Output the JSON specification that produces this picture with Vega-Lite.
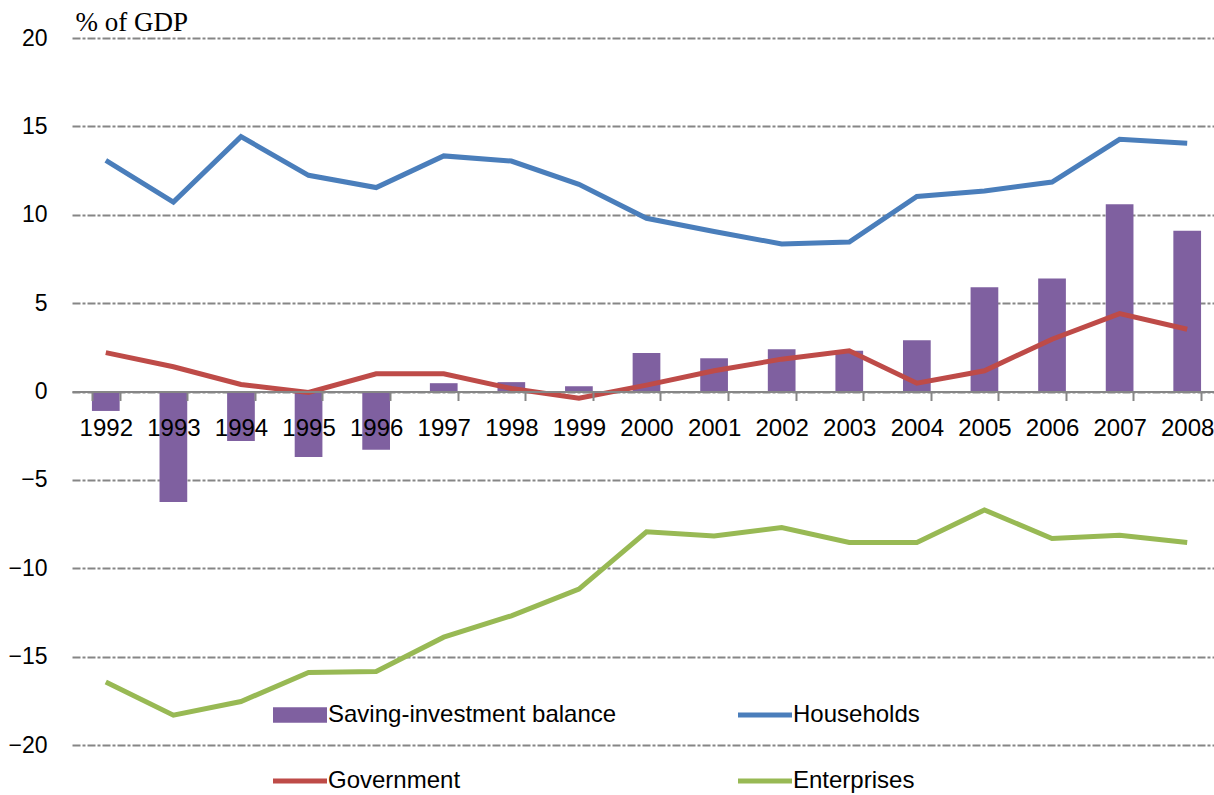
{
  "$schema": "https://vega.github.io/schema/vega-lite/v6.json",
  "autosize": {"type": "none"},
  "padding": {"left": 72, "top": 38, "right": -7, "bottom": 50},
  "width": 1149,
  "height": 707,
  "background": "white",
  "config": {
    "view": {"stroke": null},
    "font": "Liberation Sans"
  },
  "data": {
    "values": [
      {"year": "1992", "series": "Saving-investment balance", "value": -1.1},
      {"year": "1993", "series": "Saving-investment balance", "value": -6.25},
      {"year": "1994", "series": "Saving-investment balance", "value": -2.8},
      {"year": "1995", "series": "Saving-investment balance", "value": -3.7},
      {"year": "1996", "series": "Saving-investment balance", "value": -3.3},
      {"year": "1997", "series": "Saving-investment balance", "value": 0.47},
      {"year": "1998", "series": "Saving-investment balance", "value": 0.53},
      {"year": "1999", "series": "Saving-investment balance", "value": 0.3},
      {"year": "2000", "series": "Saving-investment balance", "value": 2.18},
      {"year": "2001", "series": "Saving-investment balance", "value": 1.88},
      {"year": "2002", "series": "Saving-investment balance", "value": 2.39},
      {"year": "2003", "series": "Saving-investment balance", "value": 2.3},
      {"year": "2004", "series": "Saving-investment balance", "value": 2.9},
      {"year": "2005", "series": "Saving-investment balance", "value": 5.9},
      {"year": "2006", "series": "Saving-investment balance", "value": 6.4},
      {"year": "2007", "series": "Saving-investment balance", "value": 10.6},
      {"year": "2008", "series": "Saving-investment balance", "value": 9.1},
      {"year": "1992", "series": "Households", "value": 13.08},
      {"year": "1993", "series": "Households", "value": 10.72},
      {"year": "1994", "series": "Households", "value": 14.42},
      {"year": "1995", "series": "Households", "value": 12.23},
      {"year": "1996", "series": "Households", "value": 11.54},
      {"year": "1997", "series": "Households", "value": 13.33},
      {"year": "1998", "series": "Households", "value": 13.04},
      {"year": "1999", "series": "Households", "value": 11.72},
      {"year": "2000", "series": "Households", "value": 9.8},
      {"year": "2001", "series": "Households", "value": 9.05},
      {"year": "2002", "series": "Households", "value": 8.35},
      {"year": "2003", "series": "Households", "value": 8.46},
      {"year": "2004", "series": "Households", "value": 11.03},
      {"year": "2005", "series": "Households", "value": 11.35},
      {"year": "2006", "series": "Households", "value": 11.85},
      {"year": "2007", "series": "Households", "value": 14.27},
      {"year": "2008", "series": "Households", "value": 14.05},
      {"year": "1992", "series": "Government", "value": 2.2},
      {"year": "1993", "series": "Government", "value": 1.4},
      {"year": "1994", "series": "Government", "value": 0.4},
      {"year": "1995", "series": "Government", "value": -0.05},
      {"year": "1996", "series": "Government", "value": 1.0},
      {"year": "1997", "series": "Government", "value": 1.0},
      {"year": "1998", "series": "Government", "value": 0.17},
      {"year": "1999", "series": "Government", "value": -0.38},
      {"year": "2000", "series": "Government", "value": 0.36},
      {"year": "2001", "series": "Government", "value": 1.17},
      {"year": "2002", "series": "Government", "value": 1.83},
      {"year": "2003", "series": "Government", "value": 2.3},
      {"year": "2004", "series": "Government", "value": 0.47},
      {"year": "2005", "series": "Government", "value": 1.17},
      {"year": "2006", "series": "Government", "value": 2.96},
      {"year": "2007", "series": "Government", "value": 4.41},
      {"year": "2008", "series": "Government", "value": 3.52},
      {"year": "1992", "series": "Enterprises", "value": -16.43},
      {"year": "1993", "series": "Enterprises", "value": -18.31},
      {"year": "1994", "series": "Enterprises", "value": -17.54},
      {"year": "1995", "series": "Enterprises", "value": -15.9},
      {"year": "1996", "series": "Enterprises", "value": -15.84},
      {"year": "1997", "series": "Enterprises", "value": -13.9},
      {"year": "1998", "series": "Enterprises", "value": -12.69},
      {"year": "1999", "series": "Enterprises", "value": -11.18},
      {"year": "2000", "series": "Enterprises", "value": -7.94},
      {"year": "2001", "series": "Enterprises", "value": -8.17},
      {"year": "2002", "series": "Enterprises", "value": -7.7},
      {"year": "2003", "series": "Enterprises", "value": -8.54},
      {"year": "2004", "series": "Enterprises", "value": -8.54},
      {"year": "2005", "series": "Enterprises", "value": -6.7},
      {"year": "2006", "series": "Enterprises", "value": -8.32},
      {"year": "2007", "series": "Enterprises", "value": -8.13},
      {"year": "2008", "series": "Enterprises", "value": -8.54}
    ]
  },
  "encoding": {
    "x": {
      "field": "year",
      "type": "ordinal",
      "scale": {"paddingInner": 0.59, "paddingOuter": 0.295},
      "axis": {
        "title": null,
        "orient": "bottom",
        "offset": -353.5,
        "labelAngle": 0,
        "labelFont": "Liberation Sans",
        "labelFontSize": 24,
        "labelColor": "#000000",
        "labelPadding": 16,
        "domainColor": "#868686",
        "domainWidth": 2,
        "tickColor": "#868686",
        "tickWidth": 2,
        "tickSize": 9,
        "tickBand": "extent",
        "grid": false,
        "zindex": 1
      }
    },
    "y": {
      "field": "value",
      "type": "quantitative",
      "scale": {"domain": [-20, 20], "nice": false, "zero": false},
      "axis": {
        "title": "% of GDP",
        "titleFont": "Liberation Serif",
        "titleFontSize": 27,
        "titleFontWeight": "normal",
        "titleColor": "#000000",
        "titleAngle": 0,
        "titleAlign": "left",
        "titleBaseline": "alphabetic",
        "titleX": 3,
        "titleY": -8,
        "values": [-20, -15, -10, -5, 0, 5, 10, 15, 20],
        "labelFont": "Liberation Sans",
        "labelFontSize": 23,
        "labelColor": "#000000",
        "labelPadding": 25,
        "domain": false,
        "ticks": false,
        "grid": true,
        "gridColor": "#868686",
        "gridWidth": 2,
        "gridDash": [8, 2, 3, 2]
      }
    },
    "color": {
      "field": "series",
      "type": "nominal",
      "scale": {
        "domain": ["Saving-investment balance", "Households", "Government", "Enterprises"],
        "range": ["#7F60A0", "#4A7EBB", "#BE4B48", "#98B954"]
      },
      "legend": {
        "title": null,
        "orient": "none",
        "legendX": 216,
        "legendY": 665,
        "direction": "horizontal",
        "columns": 2,
        "columnPadding": 111,
        "rowPadding": 42,
        "padding": 0,
        "symbolSize": 3025,
        "symbolStrokeWidth": 0,
        "symbolOffset": 0,
        "labelOffset": 16,
        "labelFont": "Liberation Sans",
        "labelFontSize": 24,
        "labelColor": "#000000",
        "labelLimit": 400,
        "encode": {
          "symbols": {
            "update": {
              "shape": {"signal": "datum.value === 'Saving-investment balance' ? 'M-1,-0.29L1,-0.29L1,0.29L-1,0.29Z' : 'M-1,0L1,0'"},
              "size": {"value": 2916},
              "fill": {"signal": "datum.value === 'Saving-investment balance' ? '#7F60A0' : 'transparent'"},
              "stroke": {"signal": "datum.value === 'Households' ? '#4A7EBB' : datum.value === 'Government' ? '#BE4B48' : datum.value === 'Enterprises' ? '#98B954' : 'transparent'"},
              "strokeWidth": {"signal": "datum.value === 'Saving-investment balance' ? 0 : 5"},
              "opacity": {"value": 1}
            }
          }
        }
      }
    }
  },
  "layer": [
    {
      "transform": [{"filter": "datum.series === 'Saving-investment balance'"}],
      "mark": {"type": "bar"}
    },
    {
      "transform": [{"filter": "datum.series !== 'Saving-investment balance'"}],
      "mark": {"type": "line", "strokeWidth": 5}
    }
  ]
}
